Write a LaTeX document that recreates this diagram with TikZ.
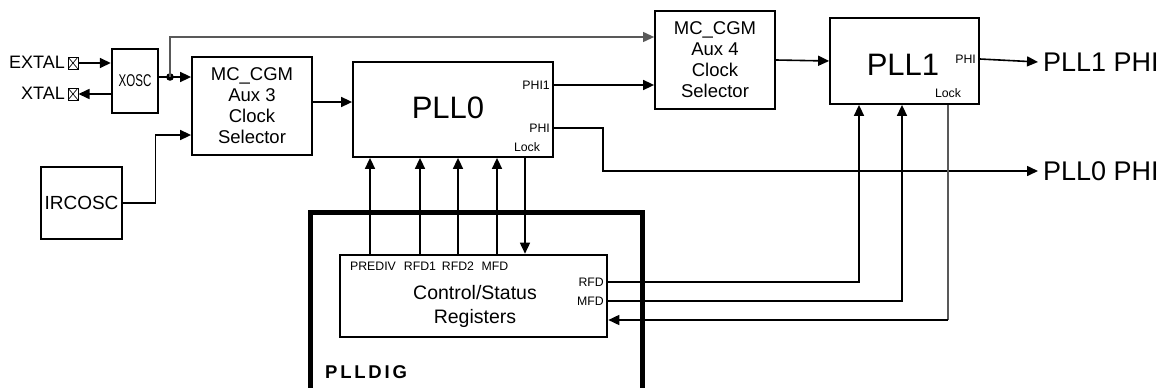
\documentclass[tikz,border=0pt]{standalone}
\usepackage{fontspec}
\setmainfont{Liberation Sans}
\usetikzlibrary{arrows.meta,calc}
\begin{document}
\begin{tikzpicture}[x=1pt,y=-1pt,
  box/.style={draw,line width=1.8pt,minimum width=#1,inner sep=0pt},
  wire/.style={line width=1.6pt},
  grayw/.style={line width=1.1pt,draw=black!65},
  arr/.style={-{Triangle[length=11pt,width=10pt]}},
  big/.style={font=\fontsize{31}{31}\selectfont},
  mid/.style={font=\fontsize{18.5}{21}\selectfont,align=center},
  sml/.style={font=\fontsize{12.3}{13}\selectfont,inner sep=0pt},
  outtxt/.style={font=\fontsize{27}{27}\selectfont,inner sep=0pt},
  pin/.style={draw,line width=1pt,minimum width=10pt,minimum height=12pt,inner sep=0pt,
  path picture={\draw[line width=0.7pt] (path picture bounding box.north west)--(path picture bounding box.south east) (path picture bounding box.north east)--(path picture bounding box.south west);}}]
\clip (0,0) rectangle (1163,388);
\fill[white] (0,0) rectangle (1163,388);
% pins
\node[pin] (extalpin) at (73,63) {};
\node[pin] (xtalpin) at (73,94) {};
\node[anchor=east,inner sep=0pt,font=\fontsize{18}{18}\selectfont] (extal) at (65,62) {EXTAL};
\node[anchor=east,inner sep=0pt,font=\fontsize{18}{18}\selectfont] (xtal) at (65,93) {XTAL};
% blocks
\node[box=46pt,minimum height=64pt,line width=2.4pt] (xosc) at (135,81) {\fontsize{17}{17}\selectfont\scalebox{0.68}[1]{XOSC}};
\node[box=120pt,minimum height=98pt,mid,line width=1.8pt] (aux3) at (252,106) {MC\_CGM\\Aux 3\\Clock\\Selector};
\node[box=81pt,minimum height=72pt,line width=2.8pt] (ircosc) at (81.5,203) {};
\node[inner sep=0pt,font=\fontsize{19}{19}\selectfont] (irtxt) at (81.5,203) {IRCOSC};
\node[box=200pt,minimum height=95pt] (pll0) at (453,109.5) {};
\node[big] (pll0txt) at (448,108) {PLL0};
\node[box=120pt,minimum height=98pt,mid] (aux4) at (715,60) {MC\_CGM\\Aux 4\\Clock\\Selector};
\node[box=149pt,minimum height=86pt] (pll1) at (904.5,61) {};
\node[big] (pll1txt) at (903,65) {PLL1};
\node[box=267pt,minimum height=82pt,line width=2.6pt] (csr) at (473.5,296) {};
\node[mid,inner sep=0pt,font=\fontsize{19.5}{24}\selectfont] (csrtxt) at (475,306) {Control/Status\\Registers};
\draw[line width=5pt] (310,420) -- (310,212) -- (642,212) -- (642,420);
\node[anchor=west,inner sep=0pt,font=\fontsize{18.5}{18}\selectfont\bfseries\addfontfeatures{LetterSpace=15}] (plldig) at (325,372) {PLLDIG};
% small labels
\node[sml,anchor=east] (p0phi1) at (550,85) {PHI1};
\node[sml,anchor=east] (p0phi) at (550,128) {PHI};
\node[sml] (p0lock) at (527,147) {Lock};
\node[sml,anchor=east] (p1phi) at (976,59) {PHI};
\node[sml] (p1lock) at (948,93) {Lock};
\node[sml] (lprediv) at (373,266) {PREDIV};
\node[sml] (lrfd1) at (420,266) {RFD1};
\node[sml] (lrfd2) at (458,266) {RFD2};
\node[sml] (lmfd) at (495,266) {MFD};
\node[sml,anchor=east] (lrfd) at (604,282) {RFD};
\node[sml,anchor=east] (lmfdr) at (604,301) {MFD};
\node[outtxt,anchor=west] (pll1out) at (1043,62) {PLL1 PHI};
\node[outtxt,anchor=west] (pll0out) at (1043,171) {PLL0 PHI};
\coordinate (dot) at (170,77);
\coordinate (lockc) at (948,320);
% connectors
\draw[wire,arr] (extalpin.east) -- (extalpin.east -| xosc.west);
\draw[wire,arr] (xosc.west |- xtalpin) -- (xtalpin.east);
\draw[wire] (xosc.east |- dot) -- (dot);
\draw[wire,arr] (dot) -- (dot -| aux3.west);
\fill (dot) circle (3.8pt);
\draw[grayw,arr] (dot) |- ([yshift=23pt]aux4.west);
\draw[wire,arr] (ircosc.east) -- ++(32,0) |- ([yshift=-29pt]aux3.west);
\draw[wire,arr] ([yshift=4pt]aux3.east) -- ([yshift=4pt]aux3.east -| pll0.west);
\draw[wire,arr] (pll0.east |- p0phi1) -- (aux4.west |- p0phi1);
\draw[wire,arr] (pll0.east |- p0phi) -- ++(49,0) |- ([xshift=-5pt]pll0out.west);
\draw[wire,arr] ($(pll0.south -| p0lock)+(-2,0)$) -- ($(csr.north -| p0lock)+(-2,0)$);
\foreach \xx in {370,420,458,497}{
  \draw[wire,arr] (csr.north -| \xx,0) -- (pll0.south -| \xx,0);}
\draw[wire,arr] (aux4.east) -- (pll1.west);
\draw[wire,arr] (pll1.east |- p1phi) -- ([xshift=-5pt]pll1out.west);
\draw[wire,arr] (csr.east |- lrfd) -| (pll1.south -| 859,0);
\draw[wire,arr] (csr.east |- lmfdr) -| (pll1.south -| 902,0);
\draw[grayw] (pll1.south -| p1lock) -- (lockc);
\draw[wire,arr] (lockc) -- (csr.east |- lockc);
\end{tikzpicture}
\end{document}
